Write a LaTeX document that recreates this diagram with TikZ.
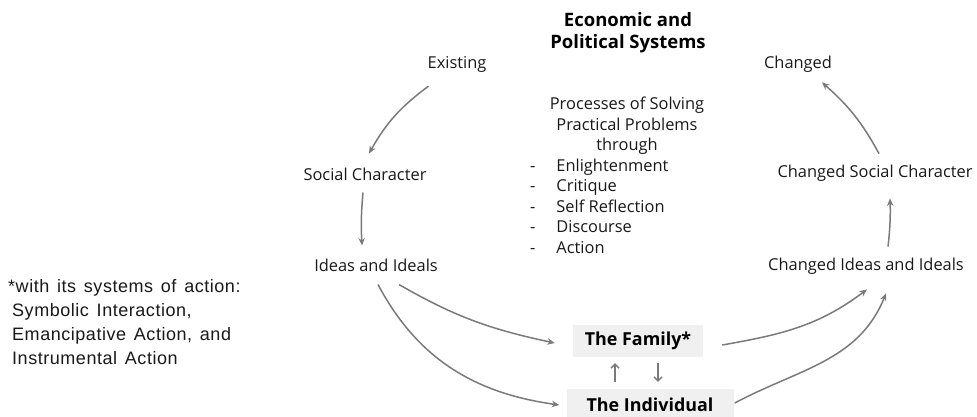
\documentclass[tikz,border=0pt]{standalone}
\usepackage{fontspec}
\setmainfont{Open Sans}
\newfontfamily\notefont{Liberation Sans}[LetterSpace=3,WordSpace=1.4]
\usetikzlibrary{arrows.meta}

\begin{document}
\begin{tikzpicture}[x=1pt,y=1pt,
    lbl/.style={inner sep=0pt,text=black!90,font=\fontsize{16.4}{20.4}\selectfont},
    ttl/.style={inner sep=0pt,align=center,font=\bfseries\fontsize{18.5}{22}\selectfont},
    box/.style={fill=black!6,inner sep=0pt,minimum height=32pt,font=\bfseries\fontsize{17.9}{21}\selectfont},
    flow/.style={draw=black!52,line width=1.5pt,-{Stealth[length=7.5pt,width=6.5pt]}},
    pair/.style={draw=black!52,line width=1.3pt,-{Straight Barb[length=4pt,width=8pt]}}]
    \useasboundingbox (0,0) rectangle (977,-416);

    \node[ttl] (sys) at (628,-33) {Economic and\\Political Systems};
    \node[lbl] (exist) at (457,-64) {Existing};
    \node[lbl] (changed) at (798,-64) {Changed};
    \node[lbl,align=center] (proc) at (627,-126) {Processes of Solving\\Practical Problems\\through};
    \node[lbl,anchor=north west] (steps) at (530,-157) {%
        \begin{tabular}{@{}l@{\hspace{21pt}}l@{}}
        - & Enlightenment\\ - & Critique\\ - & Self Reflection\\ - & Discourse\\ - & Action
        \end{tabular}};
    \node[lbl] (soc) at (365,-174) {Social Character};
    \node[lbl] (ideas) at (376,-265) {Ideas and Ideals};
    \node[lbl] (csoc) at (875,-173) {Changed Social Character};
    \node[lbl] (cideas) at (866,-266) {Changed Ideas and Ideals};
    \node[lbl,anchor=north west,align=left,font=\notefont\fontsize{18}{24}\selectfont] (note) at (8,-279)
        {*with its systems of action:\\\hspace{4pt}Symbolic Interaction,\\\hspace{4pt}Emancipative Action, and\\\hspace{4pt}Instrumental Action};
    \node[box,minimum width=130pt] (fam) at (638,-341) {The Family*};
    \node[box,minimum width=167pt] (ind) at (650,-405) {The Individual};

    \draw[flow] ([xshift=1pt,yshift=-14pt]exist.south west) to[bend right=12] ([xshift=4pt,yshift=14pt]soc.north);
    \draw[flow] ([xshift=-2pt,yshift=-12pt]soc.south) to[bend right=4] ([xshift=-14pt,yshift=13pt]ideas.north);
    \draw[flow] ([xshift=23pt,yshift=-13pt]ideas.south) to[out=-30,in=168] ([xshift=-18pt,yshift=-2pt]fam.west);
    \draw[flow] ([xshift=2pt,yshift=-13pt]ideas.south) to[out=-62,in=172] ([xshift=-7pt]ind.west);
    \draw[flow] ([xshift=19pt,yshift=-4pt]fam.east) to[out=10,in=-143] ([xshift=1pt,yshift=-15pt]cideas.south);
    \draw[flow] ([xshift=1pt,yshift=2pt]ind.east) to[out=28,in=-112] ([xshift=20pt,yshift=-19pt]cideas.south);
    \draw[flow] ([xshift=22pt,yshift=11pt]cideas.north) to[bend right=4] ([xshift=15pt,yshift=-17pt]csoc.south);
    \draw[flow] ([xshift=4pt,yshift=11pt]csoc.north) to[bend right=10] ([xshift=24pt,yshift=-10pt]changed.south);
    \draw[pair] ([xshift=-35pt,yshift=7pt]ind.north) -- ([xshift=-23pt,yshift=-6pt]fam.south);
    \draw[pair] ([xshift=20pt,yshift=-6pt]fam.south) -- ([xshift=8pt,yshift=7pt]ind.north);
\end{tikzpicture}
\end{document}
